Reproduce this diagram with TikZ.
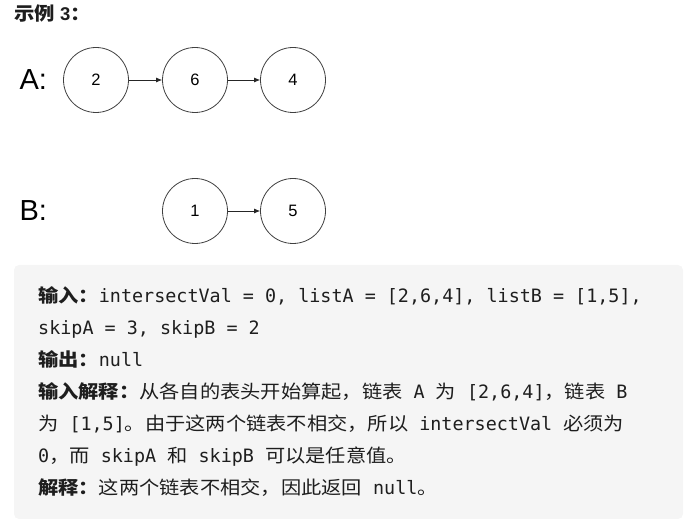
\documentclass[tikz,border=0pt]{standalone}
\usepackage{fontspec}
\usepackage{tikz}
\usetikzlibrary{arrows.meta}
\setmainfont{Liberation Sans}
\setmonofont{DejaVu Sans Mono}
\newfontfamily\cjk{Noto Sans CJK SC}[FakeStretch=1.1]
\definecolor{boxgray}{HTML}{F5F5F5}
\definecolor{txt}{HTML}{1E1E1E}
\newcommand\zh[1]{{\cjk #1}}
\newcommand\zhb[1]{{\cjk\bfseries #1}}

\begin{document}
\begin{tikzpicture}[x=1pt,y=-1pt,
  listnode/.style={draw=black!75,line width=0.8pt,circle,minimum size=65pt,inner sep=0pt,font=\fontsize{16.5}{18}\selectfont},
  nextptr/.style={draw=black!85,line width=0.7pt,-{Latex[length=6pt,width=5pt]}},
  listname/.style={anchor=west,font=\fontsize{29}{32}\selectfont},
  textline/.style={anchor=base west,inner sep=0pt,text=txt,font=\fontsize{18.4}{20}\selectfont}]
  \useasboundingbox (0,0) rectangle (689,526);

  \path (14,14) node[anchor=west,inner sep=0pt,text=txt,font=\fontsize{18.5}{20}\selectfont] (title) {\zhb{示例} \textbf{3}\zhb{：}};

  % list A
  \path (16,80) node[listname] (nameA) {A:};
  \path (96,80) node[listnode] (a2) {2};
  \path (195,80) node[listnode] (a6) {6};
  \path (293,80) node[listnode] (a4) {4};
  \draw[nextptr] (a2) -- (a6);
  \draw[nextptr] (a6) -- (a4);

  % list B
  \path (16,211) node[listname] (nameB) {B:};
  \path (195,211) node[listnode] (b1) {1};
  \path (293,211) node[listnode] (b5) {5};
  \draw[nextptr] (b1) -- (b5);

  % example box
  \fill[boxgray,rounded corners=5pt] (14,265) rectangle (683,519);
  \path (38,303) node[textline] (l1) {\zhb{输入：}\texttt{intersectVal = 0, listA = [2,6,4], listB = [1,5],}};
  \path (38,335) node[textline] (l2) {\texttt{skipA = 3, skipB = 2}};
  \path (38,367) node[textline] (l3) {\zhb{输出：}\texttt{null}};
  \path (38,399) node[textline] (l4) {\zhb{输入解释：}\zh{从各自的表头开始算起，链表}\texttt{ A }\zh{为}\texttt{ [2,6,4]}\zh{，链表}\texttt{ B}};
  \path (38,431) node[textline] (l5) {\zh{为}\texttt{ [1,5]}\zh{。由于这两个链表不相交，所以}\texttt{ intersectVal }\zh{必须为}};
  \path (38,463) node[textline] (l6) {\texttt{0}\zh{，而}\texttt{ skipA }\zh{和}\texttt{ skipB }\zh{可以是任意值。}};
  \path (38,495) node[textline] (l7) {\zhb{解释：}\zh{这两个链表不相交，因此返回}\texttt{ null}\zh{。}};
\end{tikzpicture}
\end{document}
